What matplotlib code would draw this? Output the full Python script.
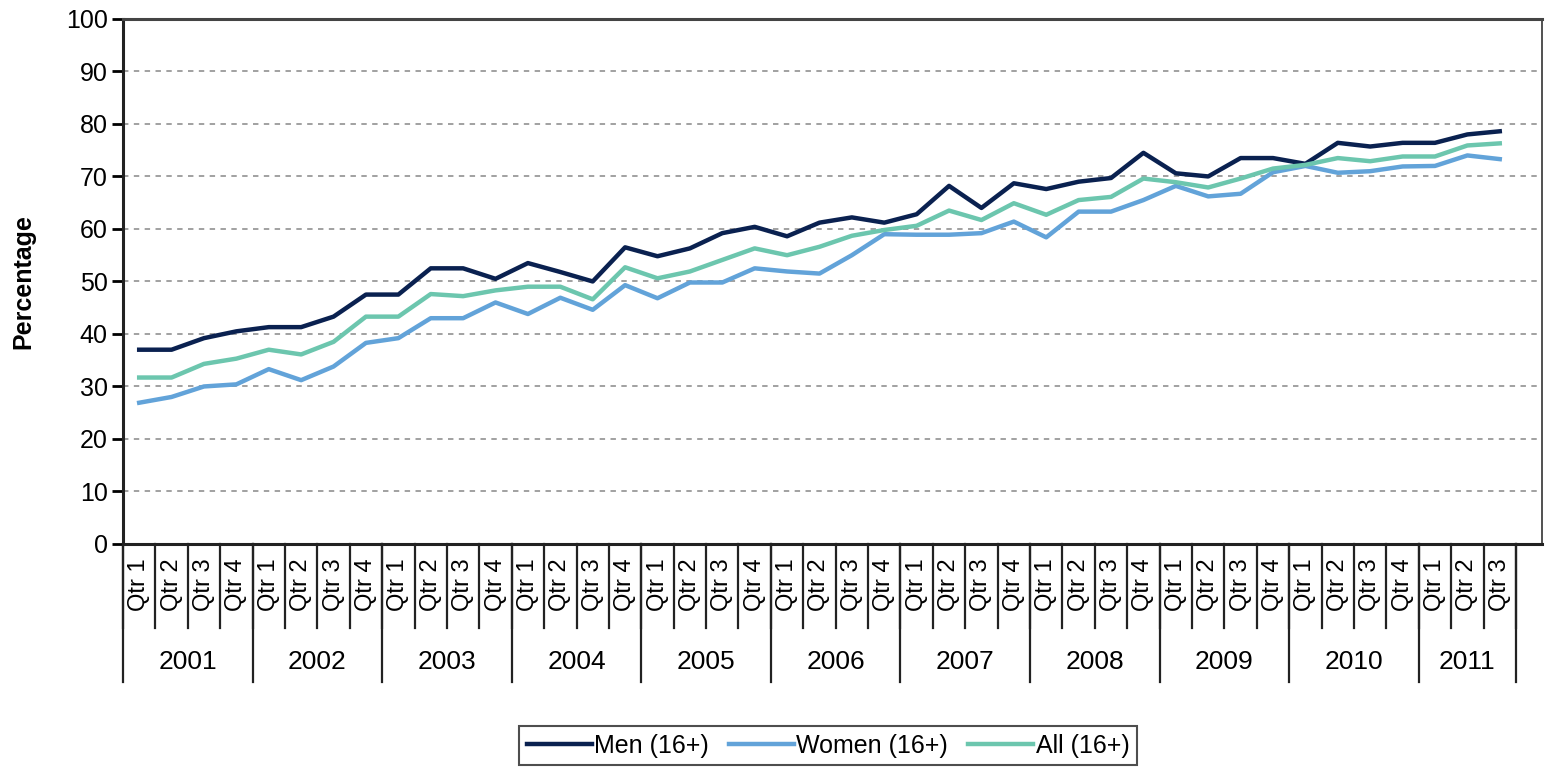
import matplotlib
matplotlib.use('Agg')
import matplotlib.pyplot as plt

plt.rcParams['font.family'] = ['Liberation Sans', 'DejaVu Sans']

# 四半期ラベルと年
years = ['2001', '2002', '2003', '2004', '2005', '2006', '2007', '2008', '2009', '2010', '2011']
quarters_per_year = [4, 4, 4, 4, 4, 4, 4, 4, 4, 4, 3]

# 系列データ (読み取り値)
men = [37.0, 37.0, 39.2, 40.5, 41.3, 41.3, 43.3, 47.5, 47.5, 52.5, 52.5,
       50.5, 53.5, 51.8, 50.0, 56.5, 54.8, 56.3, 59.2, 60.4, 58.6, 61.2,
       62.2, 61.2, 62.8, 68.2, 64.0, 68.7, 67.6, 69.0, 69.7, 74.5, 70.6,
       70.0, 73.5, 73.5, 72.4, 76.4, 75.7, 76.4, 76.4, 78.0, 78.6]
women = [26.9, 28.0, 30.0, 30.4, 33.3, 31.2, 33.8, 38.3, 39.2, 43.0, 43.0,
         46.0, 43.8, 46.9, 44.6, 49.3, 46.8, 49.8, 49.8, 52.5, 51.9, 51.5,
         55.0, 59.0, 58.9, 58.9, 59.2, 61.4, 58.4, 63.3, 63.3, 65.5, 68.2,
         66.2, 66.7, 70.8, 72.0, 70.7, 71.0, 71.9, 72.0, 74.0, 73.3]
all_ = [31.7, 31.7, 34.3, 35.3, 37.0, 36.1, 38.5, 43.3, 43.3, 47.6, 47.2,
        48.3, 49.0, 49.0, 46.6, 52.7, 50.6, 51.9, 54.1, 56.3, 55.0, 56.6,
        58.7, 59.8, 60.6, 63.5, 61.7, 64.9, 62.7, 65.5, 66.1, 69.6, 68.9,
        67.9, 69.6, 71.5, 72.2, 73.5, 72.9, 73.8, 73.8, 75.9, 76.3]

qtr_labels = []
for y, n in zip(years, quarters_per_year):
    for q in range(n):
        qtr_labels.append('Qtr %d' % (q + 1))

x = list(range(len(qtr_labels)))

fig = plt.figure(figsize=(15.49, 7.79), dpi=100)
ax = fig.add_axes([0.0794, 0.3017, 0.916, 0.674])

ax.plot(x, men, color='#0a2150', lw=3.2, label='Men (16+)')
ax.plot(x, women, color='#62a3d9', lw=3.2, label='Women (16+)')
ax.plot(x, all_, color='#6cc6ae', lw=3.2, label='All (16+)')

ax.set_ylim(0, 100)
ax.set_yticks(range(0, 101, 10))
ax.tick_params(axis='y', labelsize=18, length=8, width=2, direction='out', pad=3)
ax.set_ylabel('Percentage', fontsize=18, fontweight='bold', labelpad=22)
ax.set_xlim(-0.5, 43.3)
ax.set_xticks([])

# グリッド
for v in range(10, 100, 10):
    ax.axhline(v, color='#9a9a9a', lw=1.3, ls=(0, (3, 3)), zorder=0)

for s in ['left', 'bottom']:
    ax.spines[s].set_linewidth(2.2)
    ax.spines[s].set_color('#222222')
ax.spines['top'].set_linewidth(2.2)
ax.spines['top'].set_color('#444444')
ax.spines['right'].set_linewidth(1.2)
ax.spines['right'].set_color('#333333')

# 多段のx軸ラベル
tr = ax.get_xaxis_transform()
for i, lab in enumerate(qtr_labels):
    ax.text(i, -0.078, lab, rotation=90, ha='center', va='center',
            fontsize=17, transform=tr)
for b in range(len(qtr_labels) + 1):
    ax.plot([b - 0.5, b - 0.5], [0, -0.16], transform=tr, color='#222222',
            lw=1.6, clip_on=False)
start = 0
for y, n in zip(years, quarters_per_year):
    ax.text(start + (n - 1) / 2, -0.225, y, ha='center', va='center',
            fontsize=19, transform=tr)
    ax.plot([start - 0.5, start - 0.5], [0, -0.263], transform=tr,
            color='#222222', lw=1.6, clip_on=False)
    start += n
ax.plot([start - 0.5, start - 0.5], [0, -0.263], transform=tr,
        color='#222222', lw=1.6, clip_on=False)

leg = fig.legend(loc='center', bbox_to_anchor=(0.5345, 0.0424), ncol=3,
                 fontsize=18, frameon=True, fancybox=False, edgecolor='#222222',
                 handlelength=2.6, handletextpad=0.1, columnspacing=0.8,
                 borderpad=0.3)
leg.get_frame().set_linewidth(1.5)

fig.savefig('out.png', dpi=100)
